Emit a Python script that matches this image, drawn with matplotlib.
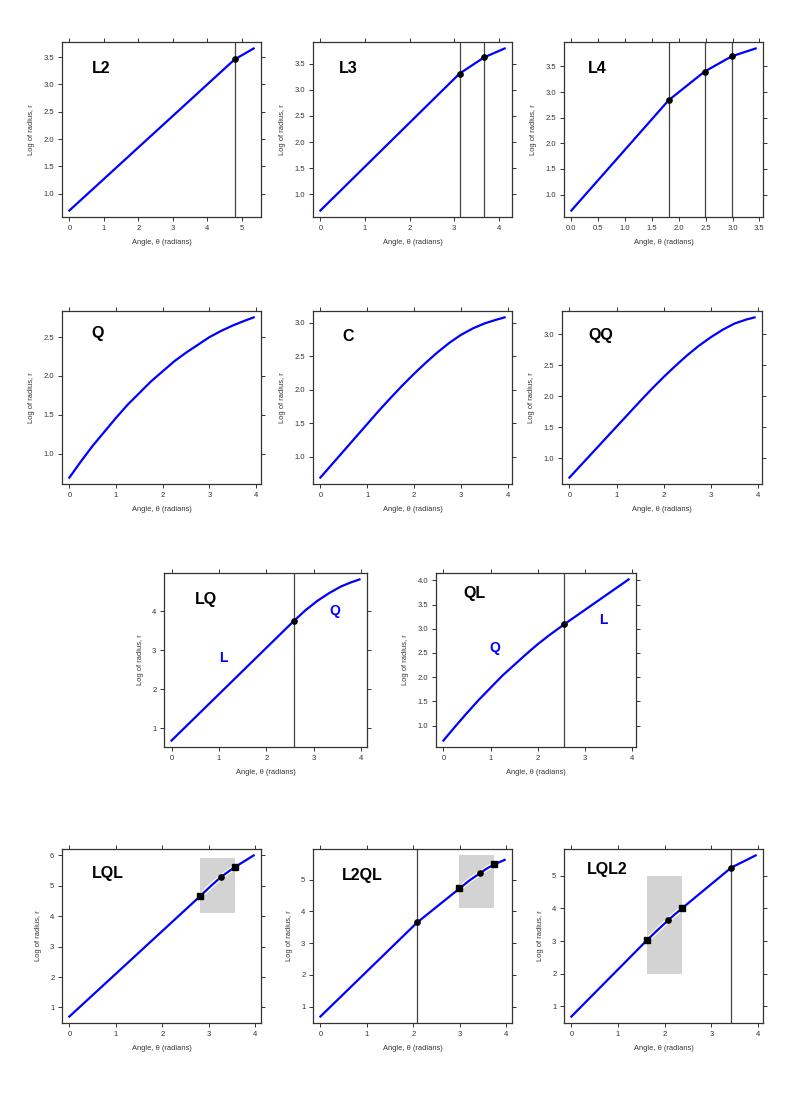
import matplotlib
matplotlib.use("Agg")
import matplotlib.pyplot as plt
from matplotlib.patches import Rectangle
from matplotlib.ticker import FormatStrFormatter

plt.rcParams['font.family'] = ['Liberation Sans', 'DejaVu Sans']

# --- data (angle in radians, log radius) ---
L2_x = [0.0, 4.79, 5.34]
L2_y = [0.69, 3.46, 3.66]
L2_breaks = [4.79]

L3_x = [0.0, 3.12, 3.67, 4.13]
L3_y = [0.69, 3.31, 3.62, 3.79]
L3_breaks = [3.12, 3.67]

L4_x = [0.0, 1.81, 2.48, 2.99, 3.43]
L4_y = [0.69, 2.84, 3.40, 3.70, 3.85]
L4_breaks = [1.81, 2.48, 2.99]

Q_x = [0.0, 0.25, 0.5, 0.75, 1.0, 1.25, 1.5, 1.75, 2.0, 2.25, 2.5, 2.75, 3.0, 3.25,
       3.5, 3.75, 3.95]
Q_y = [0.69, 0.90, 1.10, 1.28, 1.46, 1.63, 1.78, 1.93, 2.06, 2.19, 2.30, 2.40, 2.50,
       2.58, 2.65, 2.71, 2.755]

C_x = [0.0, 0.25, 0.5, 0.75, 1.0, 1.25, 1.5, 1.75, 2.0, 2.25, 2.5, 2.75, 3.0, 3.25,
       3.5, 3.75, 3.93]
C_y = [0.69, 0.89, 1.09, 1.29, 1.49, 1.69, 1.88, 2.065, 2.24, 2.405, 2.56, 2.70, 2.82,
       2.915, 2.99, 3.045, 3.08]

QQ_x = [0.0, 0.25, 0.5, 0.75, 1.0, 1.25, 1.5, 1.75, 2.0, 2.25, 2.5, 2.75, 3.0, 3.25,
        3.5, 3.75, 3.93]
QQ_y = [0.69, 0.895, 1.10, 1.305, 1.51, 1.715, 1.92, 2.12, 2.31, 2.49, 2.66, 2.815,
        2.95, 3.07, 3.17, 3.235, 3.27]

LQ_x = [0.0, 2.57, 2.82, 3.07, 3.32, 3.57, 3.77, 3.96]
LQ_y = [0.69, 3.74, 4.02, 4.26, 4.46, 4.63, 4.73, 4.81]
LQ_breaks = [2.57]

QL_x = [0.0, 0.25, 0.5, 0.75, 1.0, 1.25, 1.5, 1.75, 2.0, 2.25, 2.56, 3.93]
QL_y = [0.69, 0.98, 1.26, 1.53, 1.78, 2.03, 2.25, 2.47, 2.68, 2.87, 3.09, 4.02]
QL_breaks = [2.56]

LQL_x = [0.0, 2.81, 3.03, 3.25, 3.41, 3.56, 3.96]
LQL_y = [0.70, 4.66, 4.98, 5.28, 5.46, 5.62, 6.00]
LQL_breaks = []
LQL_box = (2.81, 3.56, 4.10, 5.92)
LQL_sq = [2.81, 3.56]
LQL_dot = [3.25]

L2QL_x = [0.0, 2.08, 2.99, 3.21, 3.44, 3.59, 3.74, 3.96]
L2QL_y = [0.69, 3.65, 4.72, 4.98, 5.21, 5.36, 5.48, 5.62]
L2QL_breaks = [2.08]
L2QL_box = (2.99, 3.74, 4.11, 5.76)
L2QL_sq = [2.99, 3.74]
L2QL_dot = [3.44]

LQL2_x = [0.0, 1.63, 1.85, 2.07, 2.22, 2.37, 3.43, 3.95]
LQL2_y = [0.69, 3.04, 3.34, 3.63, 3.82, 4.00, 5.25, 5.62]
LQL2_breaks = [3.43]
LQL2_box = (1.63, 2.37, 2.0, 5.0)
LQL2_sq = [1.63, 2.37]
LQL2_dot = [2.07]

W, H = 800, 1095


def add_panel(fig, rect_px, x, y, name, name_pos, xticks, yticks, xfmt, yfmt,
              breaks=(), box=None, squares=(), dots=()):
    """Draw one lattice-style panel; rect_px = (left, top, right, bottom) in pixels."""
    l, t, r, b = rect_px
    ax = fig.add_axes([l / W, 1 - b / H, (r - l) / W, (b - t) / H])

    # grey highlight box behind the curve
    if box is not None:
        x0, x1, y0, y1 = box
        ax.add_patch(Rectangle((x0, y0), x1 - x0, y1 - y0, facecolor='#d3d3d3',
                               edgecolor='none', zorder=1))
        inside = [(xi, yi) for xi, yi in zip(x, y) if x0 <= xi <= x1]
        ax.plot([p[0] for p in inside], [p[1] for p in inside], color='#fffbe6',
                lw=3.6, zorder=2, solid_capstyle='butt')

    ax.plot(x, y, color='#0000ff', lw=1.6, zorder=3, solid_joinstyle='round')

    for bx in breaks:
        ax.axvline(bx, color='#444444', lw=0.9, zorder=2)
    knots = list(breaks) + list(dots)
    for kx in knots:
        ky = y[x.index(kx)]
        ax.plot(kx, ky, 'o', color='black', ms=3.8, zorder=4)
    for sx in squares:
        sy = y[x.index(sx)]
        ax.plot(sx, sy, 's', color='black', ms=4.0, zorder=4)

    # 4% padding, like lattice
    lo_y, hi_y = min(y), max(y)
    if box is not None:
        lo_y, hi_y = min(lo_y, box[2]), max(hi_y, box[3])
    dx = (max(x) - min(x)) * 0.04
    dy = (hi_y - lo_y) * 0.04
    ax.set_xlim(min(x) - dx, max(x) + dx)
    ax.set_ylim(lo_y - dy, hi_y + dy)

    ax.set_xticks(xticks)
    ax.set_yticks(yticks)
    ax.xaxis.set_major_formatter(FormatStrFormatter(xfmt))
    ax.yaxis.set_major_formatter(FormatStrFormatter(yfmt))
    ax.tick_params(direction='out', length=3, width=0.7, labelsize=5.5,
                   colors='#333333', top=True, right=True, pad=2.5)
    for s in ax.spines.values():
        s.set_color('#333333')
        s.set_linewidth(0.9)

    ax.set_xlabel('Angle, θ (radians)', fontsize=5.4, color='#333333', labelpad=5)
    ax.set_ylabel('Log of radius, r', fontsize=5.4, color='#333333', labelpad=6)

    ax.text(name_pos[0], name_pos[1], name, transform=ax.transAxes, fontsize=11.5,
            fontweight='bold', va='center', ha='left')
    return ax


fig = plt.figure(figsize=(W / 100, H / 100), dpi=100)

i4 = [0, 1, 2, 3, 4]
add_panel(fig, (62, 42, 261, 217), L2_x, L2_y, 'L2', (0.15, 0.85),
          [0, 1, 2, 3, 4, 5], [1.0, 1.5, 2.0, 2.5, 3.0, 3.5], '%d', '%.1f', breaks=L2_breaks)
add_panel(fig, (313, 42, 512, 217), L3_x, L3_y, 'L3', (0.13, 0.85),
          i4, [1.0, 1.5, 2.0, 2.5, 3.0, 3.5], '%d', '%.1f', breaks=L3_breaks)
add_panel(fig, (564, 42, 763, 217), L4_x, L4_y, 'L4', (0.12, 0.85),
          [0, 0.5, 1.0, 1.5, 2.0, 2.5, 3.0, 3.5], [1.0, 1.5, 2.0, 2.5, 3.0, 3.5],
          '%.1f', '%.1f', breaks=L4_breaks)

add_panel(fig, (62, 311, 261, 484), Q_x, Q_y, 'Q', (0.15, 0.87),
          i4, [1.0, 1.5, 2.0, 2.5], '%d', '%.1f')
add_panel(fig, (313, 311, 512, 484), C_x, C_y, 'C', (0.15, 0.85),
          i4, [1.0, 1.5, 2.0, 2.5, 3.0], '%d', '%.1f')
add_panel(fig, (562, 311, 762, 484), QQ_x, QQ_y, 'QQ', (0.13, 0.86),
          i4, [1.0, 1.5, 2.0, 2.5, 3.0], '%d', '%.1f')

ax = add_panel(fig, (164, 573, 367, 747), LQ_x, LQ_y, 'LQ', (0.15, 0.85),
               i4, [1, 2, 3, 4], '%d', '%d', breaks=LQ_breaks)
ax.text(0.29, 0.51, 'L', transform=ax.transAxes, color='#0000ff', fontsize=10,
        fontweight='bold', ha='center', va='center')
ax.text(0.84, 0.78, 'Q', transform=ax.transAxes, color='#0000ff', fontsize=10,
        fontweight='bold', ha='center', va='center')

ax = add_panel(fig, (436, 573, 636, 747), QL_x, QL_y, 'QL', (0.135, 0.885),
               i4, [1.0, 1.5, 2.0, 2.5, 3.0, 3.5, 4.0], '%d', '%.1f', breaks=QL_breaks)
ax.text(0.295, 0.57, 'Q', transform=ax.transAxes, color='#0000ff', fontsize=10,
        fontweight='bold', ha='center', va='center')
ax.text(0.835, 0.73, 'L', transform=ax.transAxes, color='#0000ff', fontsize=10,
        fontweight='bold', ha='center', va='center')

add_panel(fig, (62, 849, 261, 1023), LQL_x, LQL_y, 'LQL', (0.15, 0.86),
          i4, [1, 2, 3, 4, 5, 6], '%d', '%d', breaks=LQL_breaks, box=LQL_box,
          squares=LQL_sq, dots=LQL_dot)
add_panel(fig, (313, 849, 512, 1023), L2QL_x, L2QL_y, 'L2QL', (0.146, 0.85),
          i4, [1, 2, 3, 4, 5], '%d', '%d', breaks=L2QL_breaks, box=L2QL_box,
          squares=L2QL_sq, dots=L2QL_dot)
add_panel(fig, (564, 849, 763, 1023), LQL2_x, LQL2_y, 'LQL2', (0.115, 0.88),
          i4, [1, 2, 3, 4, 5], '%d', '%d', breaks=LQL2_breaks, box=LQL2_box,
          squares=LQL2_sq, dots=LQL2_dot)

fig.savefig('out.png', dpi=100)
